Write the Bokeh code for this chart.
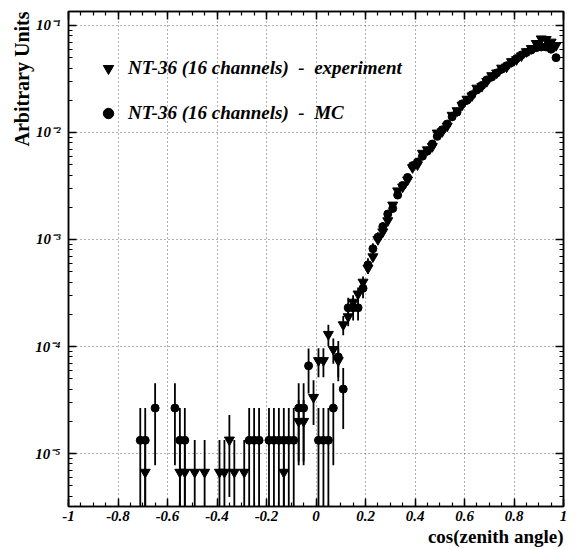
import math
from bokeh.plotting import figure
from bokeh.models import (LogAxis, LinearAxis, FixedTicker, SingleIntervalTicker,
                          CustomJSTickFormatter, Legend, LegendItem, Title, ColumnDataSource)
from bokeh.embed import file_html
from bokeh.resources import INLINE

# ---------------- data ----------------
# Monte Carlo (circles): bin centre, value
mc_x = [-0.71, -0.69, -0.65, -0.57, -0.55, -0.53,
        -0.27, -0.25, -0.23, -0.19, -0.17, -0.15, -0.13, -0.11, -0.09,
        -0.07, -0.05, -0.03, 0.01, 0.03, 0.05, 0.07, 0.09, 0.11,
        0.13, 0.15, 0.17, 0.19, 0.21, 0.23, 0.25, 0.27, 0.29, 0.31, 0.33, 0.35,
        0.37, 0.39, 0.41, 0.43, 0.45, 0.47, 0.49, 0.51, 0.53, 0.55, 0.57, 0.59,
        0.61, 0.63, 0.65, 0.67, 0.69, 0.71, 0.73, 0.75, 0.77, 0.79, 0.81, 0.83,
        0.85, 0.87, 0.89, 0.91, 0.93, 0.95, 0.97]
mc_y = [1.33e-5, 1.33e-5, 2.66e-5, 2.66e-5, 1.33e-5, 1.33e-5,
        1.33e-5, 1.33e-5, 1.33e-5, 1.33e-5, 1.33e-5, 1.33e-5, 1.33e-5, 1.33e-5, 1.33e-5,
        2.66e-5, 2.66e-5, 6.6e-5, 1.33e-5, 1.33e-5, 1.33e-5, 2.66e-5, 8.0e-5, 4.0e-5,
        2.3e-4, 2.3e-4, 2.3e-4, 3.5e-4, 5.8e-4, 8.2e-4, 1.05e-3, 1.32e-3, 1.73e-3, 1.95e-3, 2.6e-3, 3.2e-3,
        3.8e-3, 4.9e-3, 5.3e-3, 6.0e-3, 6.7e-3, 7.8e-3, 9.2e-3, 1.06e-2, 1.2e-2, 1.4e-2, 1.55e-2, 1.85e-2,
        2.0e-2, 2.25e-2, 2.5e-2, 2.75e-2, 3.1e-2, 3.3e-2, 3.6e-2, 3.9e-2, 4.2e-2, 4.5e-2, 4.9e-2, 5.3e-2,
        5.6e-2, 5.9e-2, 6.2e-2, 6.3e-2, 6.3e-2, 6.0e-2, 5.0e-2]

# Experiment (inverted triangles): bin centre, value
exp_x = [-0.69, -0.55, -0.53, -0.49, -0.45, -0.39, -0.37, -0.35, -0.33, -0.29,
         -0.13, -0.07, -0.05, -0.01, 0.01, 0.03, 0.05, 0.07, 0.09, 0.11,
         0.13, 0.15, 0.17, 0.19, 0.21, 0.23, 0.25, 0.27, 0.29, 0.31, 0.33, 0.35,
         0.37, 0.39, 0.41, 0.43, 0.45, 0.47, 0.49, 0.51, 0.53, 0.55, 0.57, 0.59,
         0.61, 0.63, 0.65, 0.67, 0.69, 0.71, 0.73, 0.75, 0.77, 0.79, 0.81, 0.83,
         0.85, 0.87, 0.89, 0.91, 0.93, 0.95, 0.97]
exp_y = [6.7e-6, 6.7e-6, 6.7e-6, 6.7e-6, 6.7e-6, 6.7e-6, 6.7e-6, 1.34e-5, 6.7e-6, 6.7e-6,
         6.7e-6, 2.0e-5, 2.0e-5, 3.35e-5, 7.4e-5, 7.4e-5, 1.3e-4, 9.4e-5, 7.4e-5, 1.6e-4,
         1.9e-4, 2.6e-4, 3.1e-4, 4.0e-4, 5.4e-4, 6.9e-4, 1.0e-3, 1.18e-3, 1.5e-3, 2.1e-3, 2.85e-3, 3.1e-3,
         3.6e-3, 4.7e-3, 5.0e-3, 6.4e-3, 6.9e-3, 7.4e-3, 9.9e-3, 1.02e-2, 1.15e-2, 1.45e-2, 1.6e-2, 1.8e-2,
         2.05e-2, 2.2e-2, 2.6e-2, 2.7e-2, 3.0e-2, 3.4e-2, 3.6e-2, 4.0e-2, 4.1e-2, 4.6e-2, 4.8e-2, 5.2e-2,
         5.7e-2, 6.1e-2, 6.8e-2, 7.5e-2, 7.4e-2, 7.0e-2, 6.5e-2]

# weight of one event in each sample (sets the Poisson error bars)
mc_unit = 1.33e-5
exp_unit = 6.7e-6

x_ticks_interval = 0.2
y_decades = [1e-5, 1e-4, 1e-3, 1e-2, 1e-1]
y_minor = [m * 10.0 ** e for e in range(-6, 0) for m in range(2, 10)]

legend_labels = ["NT-36 (16 channels)  -  experiment", "NT-36 (16 channels)  -  MC"]
x_label = "cos(zenith angle)"
y_label = "Arbitrary Units"


def err_source(xs, ys, unit):
    lo, hi = [], []
    for y in ys:
        e = math.sqrt(y * unit)
        lo.append(max(y - e, 1e-9))
        hi.append(y + e)
    return ColumnDataSource(dict(x=xs, y=ys, lo=lo, hi=hi))


mc_src = err_source(mc_x, mc_y, mc_unit)
exp_src = err_source(exp_x, exp_y, exp_unit)

# ---------------- figure ----------------
p = figure(width=580, height=549, x_range=(-1, 1), y_range=(3.2e-6, 0.135),
           y_axis_type="log", output_backend="svg", toolbar_location=None,
           min_border_left=68, min_border_right=17, min_border_top=11, min_border_bottom=43)
p.background_fill_color = "white"
p.border_fill_color = "white"
p.outline_line_color = "black"
p.outline_line_width = 1.5

xticker = SingleIntervalTicker(interval=x_ticks_interval, num_minor_ticks=4)
yticker = FixedTicker(ticks=y_decades, minor_ticks=y_minor)

xfmt = CustomJSTickFormatter(code="return String(Math.round(tick*10)/10);")
yfmt = CustomJSTickFormatter(code="""
const e = Math.round(Math.log10(tick));
const sup = {'-':'\u207b','0':'\u2070','1':'\u00b9','2':'\u00b2','3':'\u00b3','4':'\u2074','5':'\u2075','6':'\u2076'};
return '10' + String(e).split('').map(c => sup[c]).join('');
""")
blank = CustomJSTickFormatter(code="return '';")

tick_font = "Liberation Serif"

xa = p.xaxis[0]
xa.ticker = xticker
xa.formatter = xfmt
ya = p.yaxis[0]
ya.ticker = yticker
ya.formatter = yfmt

ra = LogAxis(ticker=yticker, formatter=blank)
ta = LinearAxis(ticker=xticker, formatter=blank)
p.add_layout(ra, "right")
p.add_layout(ta, "above")

for ax in (xa, ya, ra, ta):
    ax.axis_line_width = 1.5
    ax.axis_line_color = "black"
    ax.major_tick_in = 8
    ax.major_tick_out = 0
    ax.minor_tick_in = 4
    ax.minor_tick_out = 0
    ax.major_tick_line_width = 1.5
    ax.minor_tick_line_width = 1.2
    ax.major_tick_line_color = "black"
    ax.minor_tick_line_color = "black"
    ax.major_label_text_font = tick_font
    ax.major_label_text_font_style = "bold italic"
    ax.major_label_text_color = "black"

xa.major_label_text_font_size = "15px"
xa.major_label_standoff = 4
ya.major_label_text_font_size = "15px"
ya.major_label_standoff = 8
for ax in (ra, ta):
    ax.major_label_text_font_size = "0px"
    ax.major_label_standoff = 0

p.xgrid.ticker = xticker
p.ygrid.ticker = yticker
for g in (p.xgrid, p.ygrid):
    g.grid_line_color = "#222222"
    g.grid_line_dash = "1 3"
    g.grid_line_width = 1
    g.grid_line_alpha = 0.7

# error bars
p.segment(x0="x", y0="lo", x1="x", y1="hi", source=mc_src, line_color="black", line_width=1.8)
p.segment(x0="x", y0="lo", x1="x", y1="hi", source=exp_src, line_color="black", line_width=1.8)

# markers
r_exp = p.scatter(x="x", y="y", source=exp_src, marker="inverted_triangle", size=10,
                  fill_color="black", line_color="black")
r_mc = p.scatter(x="x", y="y", source=mc_src, marker="circle", size=8,
                 fill_color="black", line_color="black")

legend = Legend(items=[LegendItem(label=legend_labels[0], renderers=[r_exp]),
                       LegendItem(label=legend_labels[1], renderers=[r_mc])],
                location=(27, 380), orientation="vertical", padding=0, margin=0, spacing=19,
                glyph_width=26, glyph_height=26, label_height=26, label_standoff=7,
                label_text_font="Liberation Serif", label_text_font_style="bold italic",
                label_text_font_size="19px", label_text_color="black",
                border_line_color=None, background_fill_alpha=0)
p.add_layout(legend)

ytitle = Title(text=y_label, align="right", standoff=0, offset=0,
               text_font="Liberation Serif", text_font_style="bold", text_font_size="20px",
               text_color="black")
xtitle = Title(text=x_label, align="right", standoff=0, offset=0,
               text_font="Liberation Serif", text_font_style="bold", text_font_size="19px",
               text_color="black")
p.add_layout(ytitle, "left")
p.add_layout(xtitle, "below")

open("out.html", "w").write(file_html(p, INLINE))
